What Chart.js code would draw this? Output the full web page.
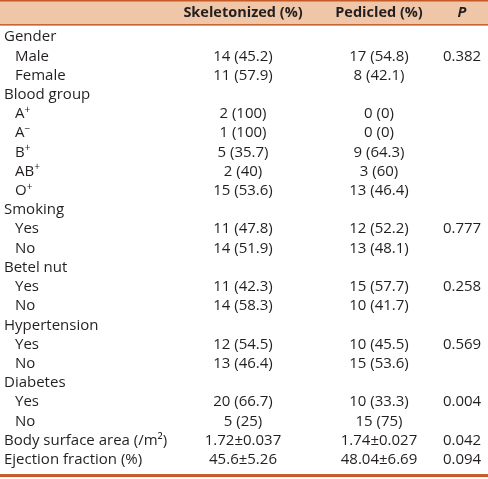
<!DOCTYPE html>
<html>
<head>
<meta charset="utf-8">
<script src="https://cdn.jsdelivr.net/npm/chart.js@4/dist/chart.umd.min.js"></script>
<style>
  html, body { margin: 0; padding: 0; background: #fff; }
  canvas { display: block; }
</style>
</head>
<body>
<canvas id="chart" width="488" height="479"></canvas>
<script>
// table content
const columnHeaders = ['', 'Skeletonized (%)', 'Pedicled (%)', 'P'];
const rowLabels = [
  'Gender', 'Male', 'Female',
  'Blood group', 'A⁺', 'A⁻', 'B⁺', 'AB⁺', 'O⁺',
  'Smoking', 'Yes', 'No',
  'Betel nut', 'Yes', 'No',
  'Hypertension', 'Yes', 'No',
  'Diabetes', 'Yes', 'No',
  'Body surface area (/m²)', 'Ejection fraction (%)'
];
const subRow = [
  false, true, true,
  false, true, true, true, true, true,
  false, true, true,
  false, true, true,
  false, true, true,
  false, true, true,
  false, false
];
const skeletonized = [
  '', '14 (45.2)', '11 (57.9)',
  '', '2 (100)', '1 (100)', '5 (35.7)', '2 (40)', '15 (53.6)',
  '', '11 (47.8)', '14 (51.9)',
  '', '11 (42.3)', '14 (58.3)',
  '', '12 (54.5)', '13 (46.4)',
  '', '20 (66.7)', '5 (25)',
  '1.72±0.037', '45.6±5.26'
];
const pedicled = [
  '', '17 (54.8)', '8 (42.1)',
  '', '0 (0)', '0 (0)', '9 (64.3)', '3 (60)', '13 (46.4)',
  '', '12 (52.2)', '13 (48.1)',
  '', '15 (57.7)', '10 (41.7)',
  '', '10 (45.5)', '15 (53.6)',
  '', '10 (33.3)', '15 (75)',
  '1.74±0.027', '48.04±6.69'
];
const pValues = [
  '', '0.382', '',
  '', '', '', '', '', '',
  '', '0.777', '',
  '', '0.258', '',
  '', '0.569', '',
  '', '0.004', '',
  '0.042', '0.094'
];

// layout (scale units: x = pixels across, y = row index)
const colX = [4, 243, 379, 462];
const indentX = 15;
const headerRow = -1.25;
const tableTop = -1.93, headerBottom = -0.65, tableBottom = 22.82;

const FONT = '"Open Sans", Lato, sans-serif';
const TEXT = '#231f20';
const ORANGE = '#c65b27';
const PEACH = '#f0c6a8';
const SUP = { '⁺': '+', '⁻': '−' };

function cellPoints(texts, col) {
  return texts.map((t, i) => ({
    x: col === 0 && subRow[i] ? indentX : colX[col],
    y: i,
    text: t
  }));
}

const datasets = [
  { label: 'labels', data: cellPoints(rowLabels, 0), align: 'left' },
  { label: 'skeletonized', data: cellPoints(skeletonized, 1), align: 'center' },
  { label: 'pedicled', data: cellPoints(pedicled, 2), align: 'center' },
  { label: 'p', data: cellPoints(pValues, 3), align: 'center' },
  {
    label: 'header',
    data: columnHeaders.map((t, i) => ({ x: colX[i], y: headerRow, text: t })),
    align: 'center', header: true
  }
].map(d => ({ ...d, pointRadius: 0, pointHoverRadius: 0, showLine: false }));

// draws text, rendering a trailing ⁺/⁻ as a raised small sign
function drawCell(ctx, t, x, y, align) {
  const last = t.slice(-1);
  if (!SUP[last]) {
    ctx.textAlign = align;
    ctx.fillText(t, x, y);
    return;
  }
  const base = t.slice(0, -1);
  ctx.textAlign = 'left';
  ctx.fillText(base, x, y);
  const w = ctx.measureText(base).width;
  const old = ctx.font;
  ctx.font = '10px ' + FONT;
  ctx.fillText(SUP[last], x + w, y - 4);
  ctx.font = old;
}

const tablePlugin = {
  id: 'tableCells',
  beforeDatasetsDraw(chart) {
    const { ctx, chartArea, scales: { y } } = chart;
    const top = y.getPixelForValue(tableTop);
    const hb = y.getPixelForValue(headerBottom);
    const bot = y.getPixelForValue(tableBottom);
    ctx.save();
    ctx.fillStyle = PEACH;
    ctx.fillRect(chartArea.left, top, chartArea.width, hb - top);
    ctx.fillStyle = ORANGE;
    ctx.fillRect(chartArea.left, top, chartArea.width, 1.5);
    ctx.fillRect(chartArea.left, hb - 0.5, chartArea.width, 1.5);
    ctx.fillRect(chartArea.left, bot - 1.5, chartArea.width, 3);
    ctx.restore();
  },
  afterDatasetsDraw(chart) {
    const { ctx } = chart;
    ctx.save();
    ctx.fillStyle = TEXT;
    ctx.textBaseline = 'middle';
    chart.data.datasets.forEach((ds, di) => {
      const meta = chart.getDatasetMeta(di);
      meta.data.forEach((el, i) => {
        const t = ds.data[i].text;
        if (!t) return;
        if (ds.header) {
          ctx.font = (t === 'P' ? 'italic bold ' : 'bold ') + '14.5px ' + FONT;
        } else {
          ctx.font = '15px ' + FONT;
        }
        drawCell(ctx, t, el.x, el.y, ds.align);
      });
    });
    ctx.restore();
  }
};

new Chart(document.getElementById('chart'), {
  type: 'scatter',
  data: { datasets },
  options: {
    responsive: false,
    animation: false,
    layout: { padding: 0 },
    events: [],
    scales: {
      x: { type: 'linear', min: 0, max: 488, display: false },
      y: { type: 'linear', min: tableTop, max: 23, reverse: true, display: false }
    },
    plugins: { legend: { display: false }, tooltip: { enabled: false } }
  },
  plugins: [tablePlugin]
});
</script>
</body>
</html>
